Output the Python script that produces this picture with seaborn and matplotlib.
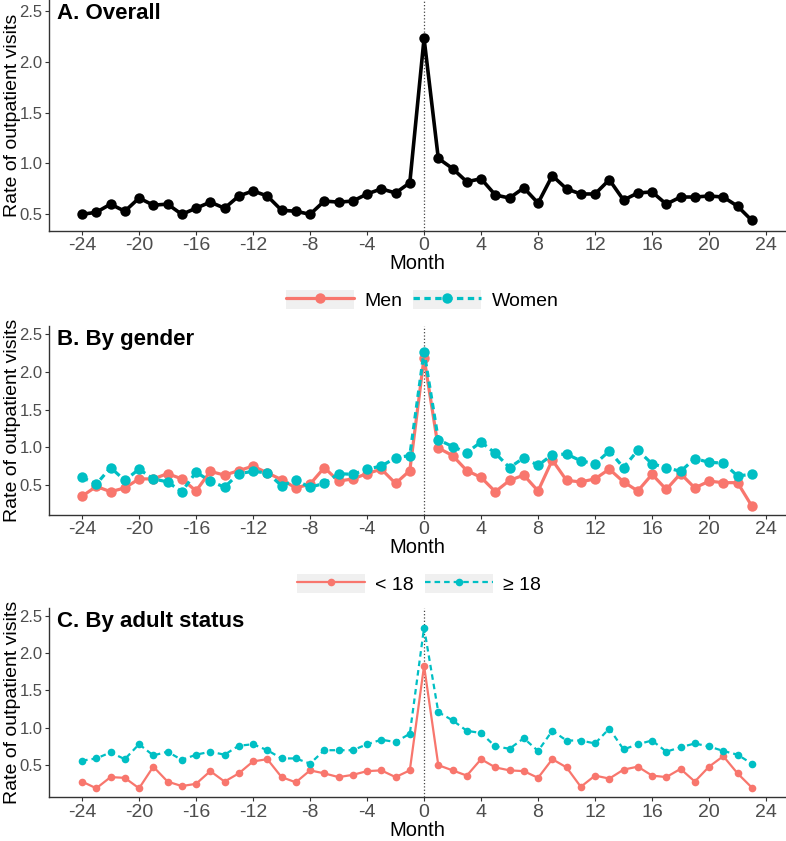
import numpy as np
import pandas as pd
import seaborn as sns
from matplotlib import pyplot as plt
from matplotlib.patches import Patch
from matplotlib.lines import Line2D
from matplotlib.legend_handler import HandlerTuple

# months relative to event
months = list(range(-24, 24))

overall = [0.50, 0.52, 0.60, 0.53, 0.66, 0.59, 0.60, 0.50, 0.56, 0.62, 0.56, 0.68,
           0.73, 0.68, 0.54, 0.53, 0.50, 0.63, 0.62, 0.63, 0.70, 0.75, 0.71, 0.81,
           2.23, 1.05, 0.95, 0.82, 0.85, 0.69, 0.66, 0.76, 0.61, 0.88, 0.75, 0.70,
           0.70, 0.84, 0.64, 0.71, 0.72, 0.60, 0.67, 0.67, 0.68, 0.67, 0.58, 0.44]

men = [0.35, 0.48, 0.41, 0.46, 0.58, 0.58, 0.65, 0.58, 0.42, 0.68, 0.63, 0.69,
       0.75, 0.66, 0.57, 0.46, 0.51, 0.73, 0.55, 0.58, 0.65, 0.71, 0.52, 0.69,
       2.19, 0.99, 0.89, 0.69, 0.60, 0.41, 0.56, 0.63, 0.42, 0.83, 0.56, 0.54,
       0.58, 0.71, 0.54, 0.42, 0.64, 0.44, 0.65, 0.46, 0.55, 0.53, 0.53, 0.22]

women = [0.60, 0.51, 0.73, 0.56, 0.71, 0.58, 0.54, 0.41, 0.67, 0.55, 0.47, 0.65,
         0.68, 0.66, 0.49, 0.56, 0.47, 0.52, 0.65, 0.64, 0.71, 0.75, 0.86, 0.89,
         2.27, 1.10, 1.01, 0.93, 1.07, 0.92, 0.73, 0.86, 0.76, 0.90, 0.91, 0.82,
         0.78, 0.95, 0.73, 0.96, 0.78, 0.73, 0.68, 0.85, 0.80, 0.79, 0.62, 0.64]

under18 = [0.28, 0.19, 0.34, 0.33, 0.19, 0.48, 0.28, 0.22, 0.25, 0.42, 0.28, 0.39,
           0.55, 0.58, 0.34, 0.27, 0.43, 0.39, 0.34, 0.37, 0.42, 0.43, 0.34, 0.43,
           1.83, 0.50, 0.43, 0.36, 0.58, 0.47, 0.43, 0.42, 0.33, 0.58, 0.47, 0.21,
           0.36, 0.32, 0.44, 0.48, 0.36, 0.34, 0.45, 0.28, 0.48, 0.62, 0.39, 0.20]

adult = [0.56, 0.59, 0.67, 0.58, 0.78, 0.63, 0.68, 0.57, 0.64, 0.68, 0.64, 0.76,
         0.78, 0.70, 0.59, 0.59, 0.52, 0.70, 0.70, 0.70, 0.78, 0.84, 0.81, 0.92,
         2.34, 1.21, 1.10, 0.96, 0.93, 0.75, 0.72, 0.86, 0.69, 0.96, 0.83, 0.83,
         0.79, 0.99, 0.71, 0.78, 0.83, 0.68, 0.74, 0.79, 0.75, 0.69, 0.64, 0.52]

gender_labels = ["Men", "Women"]
age_labels = ["< 18", "\u2265 18"]
x_ticks = list(range(-24, 25, 4))
y_ticks = [0.5, 1.0, 1.5, 2.0, 2.5]

RED = "#F8766D"
TEAL = "#00BFC4"
KEY_BG = "#F0F0F0"

sns.set_style("ticks")
plt.rcParams["font.family"] = ["Liberation Sans", "DejaVu Sans"]
plt.rcParams["axes.unicode_minus"] = False
plt.rcParams["text.color"] = "black"
plt.rcParams["axes.labelcolor"] = "black"

fig = plt.figure(figsize=(7.86, 8.41), dpi=100)
ax_a = fig.add_axes([0.0627, 0.7257, 0.9373, 0.2743])
ax_b = fig.add_axes([0.0627, 0.3876, 0.9373, 0.2247])
ax_c = fig.add_axes([0.0627, 0.0520, 0.9373, 0.2247])


def style_axis(ax, title, ylim):
    ax.axvline(0, color="#444444", linestyle=":", linewidth=0.9, zorder=0)
    ax.set_xlim(-26.3, 25.4)
    ax.set_ylim(*ylim)
    ax.set_xticks(x_ticks)
    ax.set_xticklabels([str(t) for t in x_ticks])
    ax.set_yticks(y_ticks)
    ax.tick_params(axis="x", labelsize=14, colors="#4D4D4D", length=3, width=0.8, pad=1.5)
    ax.tick_params(axis="y", labelsize=12, colors="#4D4D4D", length=3, width=0.8, pad=2)
    ax.tick_params(color="#333333")
    for side in ["top", "right"]:
        ax.spines[side].set_visible(False)
    for side in ["left", "bottom"]:
        ax.spines[side].set_color("#333333")
        ax.spines[side].set_linewidth(1.0)
    ax.set_xlabel("Month", fontsize=14.5, labelpad=0, color="black")
    ax.set_ylabel("Rate of outpatient visits", fontsize=14, color="black")
    ax.yaxis.set_label_coords(-0.039, 0.5)
    ax.text(0.011, 0.985, title, transform=ax.transAxes, fontsize=16,
            fontweight="bold", ha="left", va="top", color="black")


# A. overall
sns.lineplot(x=months, y=overall, color="black", marker="o", markersize=7.5,
             markeredgewidth=0, linewidth=2.6, ax=ax_a)
style_axis(ax_a, "A. Overall", (0.339, 2.607))

# B. by gender
df_b = pd.DataFrame({
    "Month": months * 2,
    "Rate": men + women,
    "Group": [gender_labels[0]] * len(months) + [gender_labels[1]] * len(months),
})
sns.lineplot(data=df_b, x="Month", y="Rate", hue="Group", style="Group",
             palette=[RED, TEAL], markers=["o", "o"],
             dashes={gender_labels[0]: "", gender_labels[1]: (2, 1.4)},
             markersize=7.5, markeredgewidth=0, linewidth=2.3, legend=False, ax=ax_b)
style_axis(ax_b, "B. By gender", (0.10, 2.61))

# C. by adult status
df_c = pd.DataFrame({
    "Month": months * 2,
    "Rate": under18 + adult,
    "Group": [age_labels[0]] * len(months) + [age_labels[1]] * len(months),
})
sns.lineplot(data=df_c, x="Month", y="Rate", hue="Group", style="Group",
             palette=[RED, TEAL], markers=["o", "o"],
             dashes={age_labels[0]: "", age_labels[1]: (2.5, 1.8)},
             markersize=5.5, markeredgewidth=0, linewidth=1.6, legend=False, ax=ax_c)
style_axis(ax_c, "C. By adult status", (0.07, 2.60))


def add_legend(labels, lw, ms, dash, center):
    handles = [
        (Patch(facecolor=KEY_BG, edgecolor="none"),
         Line2D([], [], color=RED, lw=lw, marker="o", markersize=ms, markeredgewidth=0)),
        (Patch(facecolor=KEY_BG, edgecolor="none"),
         Line2D([], [], color=TEAL, lw=lw, marker="o", markersize=ms, markeredgewidth=0,
                dashes=dash)),
    ]
    leg = fig.legend(handles, labels, loc="center", bbox_to_anchor=center, ncol=2,
                     frameon=False, fontsize=14, handlelength=3.5, handleheight=1.15,
                     handletextpad=0.55, columnspacing=0.55, borderpad=0, numpoints=1,
                     handler_map={tuple: HandlerTuple(ndivide=1)})
    for t in leg.get_texts():
        t.set_color("black")


add_legend(gender_labels, 2.3, 7.5, (2, 1.4), (0.5375, 0.6433))
add_legend(age_labels, 1.6, 5.5, (2.5, 1.8), (0.533, 0.3056))

fig.savefig("out.png", dpi=100)
